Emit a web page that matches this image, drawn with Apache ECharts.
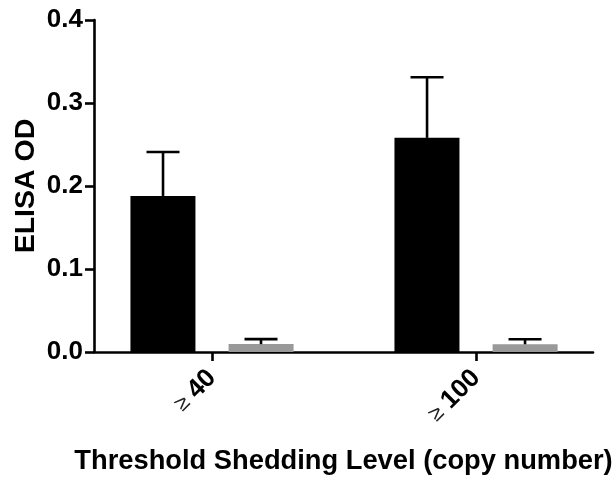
<!DOCTYPE html>
<html>
<head>
<meta charset="utf-8">
<script src="https://cdn.jsdelivr.net/npm/echarts@6/dist/echarts.min.js"></script>
<style>
html,body{margin:0;padding:0;background:#fff;}
#chart{width:613px;height:477px;}
</style>
</head>
<body>
<div id="chart"></div>
<script>
// Data
var categories = ['40', '100'];          // shown as "≥ 40", "≥ 100"
var categoryPos = [0, 1];
var blackValues = [0.188, 0.258];
var blackErrors = [0.053, 0.073];
var greyValues = [0.0095, 0.0093];
var greyErrors = [0.006, 0.006];
var yTicks = [0.0, 0.1, 0.2, 0.3, 0.4];

var BAR_W = 65;
var GAP = '51%';
var OFFSET = 49;   // half of (bar width + gap)
var CAP = 33;
var FONT = 'Liberation Sans, Arial, sans-serif';

function pairs(vals) { return vals.map(function (v, i) { return [categoryPos[i], v]; }); }
function errPairs(vals, errs) { return vals.map(function (v, i) { return [categoryPos[i], v, v + errs[i]]; }); }

function errRender(offset) {
  return function (params, api) {
    var x = api.value(0);
    var lo = api.coord([x, api.value(1)]);
    var hi = api.coord([x, api.value(2)]);
    var cx = lo[0] + offset;
    var style = { stroke: '#000', lineWidth: 2.6 };
    return {
      type: 'group',
      children: [
        { type: 'line', shape: { x1: cx, y1: lo[1], x2: cx, y2: hi[1] }, style: style },
        { type: 'line', shape: { x1: cx - CAP / 2, y1: hi[1], x2: cx + CAP / 2, y2: hi[1] }, style: style }
      ]
    };
  };
}

var chart = echarts.init(document.getElementById('chart'));
chart.setOption({
  animation: false,
  backgroundColor: '#fff',
  grid: { left: 94, right: 20, top: 20, bottom: 125, containLabel: false, outerBoundsMode: 'none' },
  xAxis: {
    type: 'value',
    min: -0.447,
    max: 1.443,
    splitLine: { show: false },
    axisLine: { show: true, onZero: false, lineStyle: { color: '#000', width: 2.6 } },
    axisTick: { show: true, customValues: categoryPos, length: 9, lineStyle: { color: '#000', width: 2.6 } },
    axisLabel: {
      customValues: categoryPos,
      rotate: 45,
      margin: 22,
      formatter: function (v) {
        var i = categoryPos.indexOf(Math.round(v));
        return '{sym|≥}  {num|' + categories[i] + '}';
      },
      rich: {
        sym: { fontFamily: FONT, fontSize: 22, color: '#222', fontWeight: 'normal' },
        num: { fontFamily: FONT, fontSize: 26, color: '#000', fontWeight: 'bold' }
      }
    },
    name: 'Threshold Shedding Level (copy number)',
    nameLocation: 'middle',
    nameGap: 96,
    nameTextStyle: { fontFamily: FONT, fontSize: 27.3, fontWeight: 'bold', color: '#000' }
  },
  yAxis: {
    type: 'value',
    min: 0,
    max: 0.4,
    interval: 0.1,
    splitLine: { show: false },
    axisLine: { show: true, onZero: false, lineStyle: { color: '#000', width: 2.6 } },
    axisTick: { show: true, length: 9, lineStyle: { color: '#000', width: 2.6 } },
    axisLabel: {
      margin: 11,
      fontFamily: FONT,
      fontSize: 26,
      fontWeight: 'bold',
      color: '#000',
      formatter: function (v) { return v.toFixed(1); }
    },
    name: 'ELISA OD',
    nameLocation: 'middle',
    nameGap: 53,
    nameMoveOverlap: false,
    nameRotate: 90,
    nameTextStyle: { fontFamily: FONT, fontSize: 28.5, fontWeight: 'bold', color: '#000' }
  },
  series: [
    {
      type: 'bar', name: 'black', data: pairs(blackValues),
      barWidth: BAR_W, barGap: GAP,
      itemStyle: { color: '#000' }, z: 2
    },
    {
      type: 'bar', name: 'grey', data: pairs(greyValues),
      barWidth: BAR_W, barGap: GAP,
      itemStyle: { color: '#999999' }, z: 2
    },
    {
      type: 'custom', data: errPairs(blackValues, blackErrors),
      renderItem: errRender(-OFFSET), z: 3
    },
    {
      type: 'custom', data: errPairs(greyValues, greyErrors),
      renderItem: errRender(OFFSET), z: 3
    }
  ]
});
</script>
</body>
</html>
